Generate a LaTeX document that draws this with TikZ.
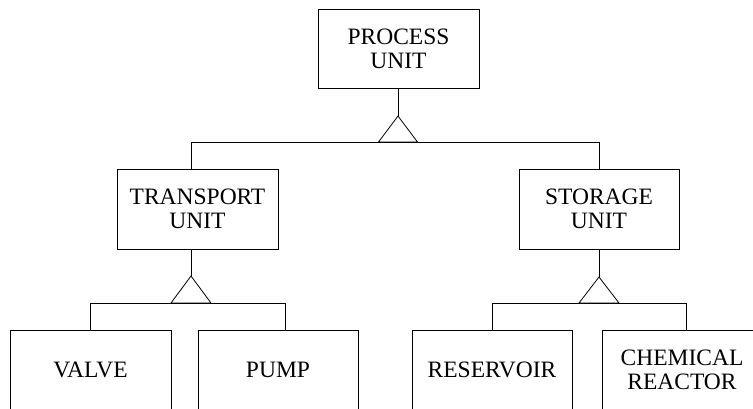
\documentclass[tikz,border=0pt]{standalone}
\usepackage{fontspec}
\setmainfont{Liberation Serif}
\begin{document}
\begin{tikzpicture}[x=1pt,y=-1pt,line width=0.8pt,
  unitbox/.style={draw, minimum width=161pt, minimum height=80pt, inner sep=0pt,
    align=center, font=\fontsize{23.5}{24}\selectfont},
  wire/.style={draw, line width=0.8pt}]
  \clip (0,0) rectangle (753,408);

  % class boxes
  \node[unitbox, minimum height=79pt] (proc)  at (398.5,48.5) {PROCESS\\UNIT};
  \node[unitbox] (trans) at (197.5,209) {TRANSPORT\\UNIT};
  \node[unitbox, minimum width=160pt] (stor)  at (599,209) {STORAGE\\UNIT};
  \node[unitbox] (valve) at (90.5,370) {VALVE};
  \node[unitbox, minimum width=160pt] (pump)  at (278,370) {PUMP};
  \node[unitbox, minimum width=160pt] (res)   at (492,370) {RESERVOIR};
  \node[unitbox, minimum width=160pt] (chem)  at (682,370) {CHEMICAL\\REACTOR};

  % generalisation: process unit
  \coordinate (pa) at (398,116);
  \coordinate (pl) at (191,142);
  \coordinate (pr) at (599,142);
  \draw (proc.south -| pa) -- (pa);
  \draw (pa) -- ++(-19.5,26) -- ++(39,0) -- cycle;
  \draw (trans.north -| pl) -- (pl) -- (pr) -- (stor.north -| pr);

  % generalisation: transport unit
  \coordinate (ta) at (191,276);
  \coordinate (tl) at (90,303);
  \coordinate (tr) at (285,303);
  \draw (trans.south -| ta) -- (ta);
  \draw (ta) -- ++(-20,27) -- ++(40,0) -- cycle;
  \draw (valve.north -| tl) -- (tl) -- (tr) -- (pump.north -| tr);

  % generalisation: storage unit
  \coordinate (sa) at (599,277);
  \coordinate (sl) at (492,303);
  \coordinate (sr) at (686,303);
  \draw (stor.south -| sa) -- (sa);
  \draw (sa) -- ++(-20,26) -- ++(40,0) -- cycle;
  \draw (res.north -| sl) -- (sl) -- (sr) -- (chem.north -| sr);
\end{tikzpicture}
\end{document}
